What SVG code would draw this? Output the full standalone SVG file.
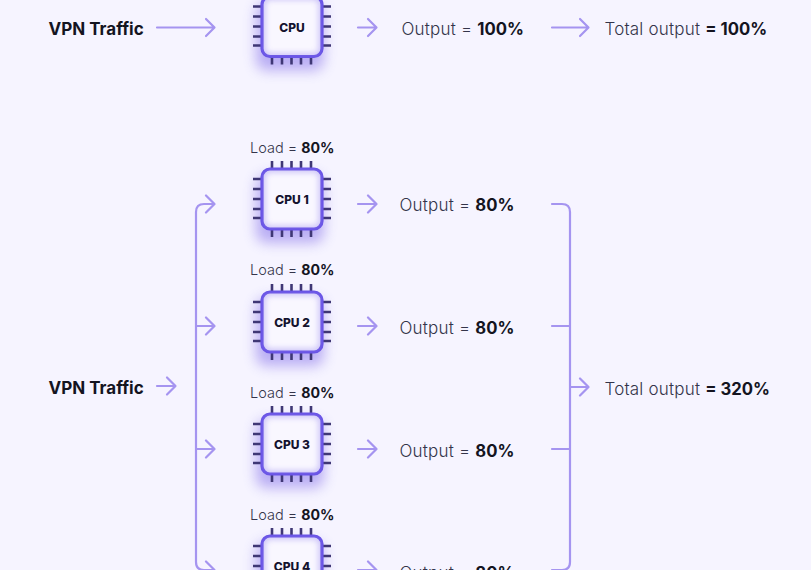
<svg xmlns="http://www.w3.org/2000/svg" width="811" height="570" viewBox="0 0 811 570">
<style>
text{font-family:Inter,"Liberation Sans",sans-serif;fill:#34344a}
.t{font-size:17px;font-weight:300;letter-spacing:.2px}
.l{font-size:14.500px;font-weight:300}
.b{font-weight:700;fill:#14141f;font-size:16.700px;letter-spacing:0}
.lb{font-weight:700;fill:#14141f;font-size:14.200px}
.v{font-size:17px;font-weight:700;fill:#14141f}
.c{font-size:12px;font-weight:800;fill:#14122e;text-anchor:middle}
.ln{fill:none;stroke:#a594f0;stroke-width:2.200;stroke-linecap:round;stroke-linejoin:round}
.pin{stroke:#3f3775;stroke-width:2.600;fill:none}
.body{fill:#f9f7ff;stroke:#6a55e6;stroke-width:3.200}
.in{fill:none;stroke:#7d69ea;stroke-width:5;opacity:.5}
</style>
<defs>
<filter id="sh" x="-50%" y="-50%" width="200%" height="200%"><feGaussianBlur stdDeviation="6.500"/></filter>
<filter id="soft" x="-30%" y="-30%" width="160%" height="160%"><feGaussianBlur stdDeviation="3"/></filter>
<clipPath id="cp"><rect x="-30" y="-30" width="60" height="60" rx="8"/></clipPath>
<g id="chip">
<rect x="-36" y="-24" width="68" height="68" rx="10" fill="#6f58e6" opacity=".45" filter="url(#sh)"/>
<path class="pin" d="M-39-20h10M-39-10h10M-39 0h10M-39 10h10M-39 19h10M29-20h10M29-10h10M29 0h10M29 10h10M29 19h10M-20-38v9M-10-38v9M-.5-38v9M9-38v9M19-38v9M-20 29v9M-10 29v9M-.5 29v9M9 29v9M19 29v9"/>
<rect class="body" x="-30" y="-30" width="60" height="60" rx="8"/>
<g clip-path="url(#cp)"><rect class="in" x="-30" y="-30" width="60" height="60" rx="8" filter="url(#soft)"/></g>
</g>
</defs>
<rect width="811" height="570" fill="#f6f4ff"/>
<g id="connectors">
<path class="ln" d="M157 27.500H214M206 19L214.500 27.500L206 36"/>
<path class="ln" d="M358 27.500H376M368 19L376.500 27.500L368 36"/>
<path class="ln" d="M552 27.500H588M580 19L588.500 27.500L580 36"/>
<path class="ln" d="M157 386H175M167 377.500L175.500 386L167 394.500"/>
<path class="ln" d="M214 204H204Q196 204 196 212V562Q196 570 204 570H214"/>
<path class="ln" d="M206 195.500L214.500 204L206 212.500M196 326H214M206 317.500L214.500 326L206 334.500M196 449H214M206 440.500L214.500 449L206 457.500M206 561.500L214.500 570L206 578.500"/>
<path class="ln" d="M358 204H376M368 195.500L376.500 204L368 212.500M358 326H376M368 317.500L376.500 326L368 334.500M358 449H376M368 440.500L376.500 449L368 457.500M358 570H376M368 561.500L376.500 570L368 578.500"/>
<path class="ln" d="M552 204H562Q570 204 570 212V562Q570 570 562 570H552M552 326H570M552 449H570M570 387H588M580 378.500L588.500 387L580 395.500"/>
</g>
<g id="vpn-1"><text class="v" x="48.500" y="34.500">VPN Traffic</text></g>
<g id="cpu"><use href="#chip" x="292" y="26.500"/><text class="c" x="292" y="32">CPU</text></g>
<g id="output-1"><text class="t" x="401.500" y="34.500">Output = <tspan class="b">100%</tspan></text></g>
<g id="total-1"><text class="t" x="604.500" y="34.500">Total output <tspan class="b">= 100%</tspan></text></g>
<g id="vpn-2"><text class="v" x="48.500" y="393.500">VPN Traffic</text></g>
<g id="cpu1"><text class="l" x="250" y="152.500">Load = <tspan class="lb">80%</tspan></text><use href="#chip" x="292" y="199"/><text class="c" x="292" y="204">CPU 1</text></g>
<g id="cpu2"><text class="l" x="250" y="275">Load = <tspan class="lb">80%</tspan></text><use href="#chip" x="292" y="322"/><text class="c" x="292" y="327">CPU 2</text></g>
<g id="cpu3"><text class="l" x="250" y="398">Load = <tspan class="lb">80%</tspan></text><use href="#chip" x="292" y="444"/><text class="c" x="292" y="449">CPU 3</text></g>
<g id="cpu4"><text class="l" x="250" y="520">Load = <tspan class="lb">80%</tspan></text><use href="#chip" x="292" y="566"/><text class="c" x="292" y="571">CPU 4</text></g>
<g id="output-2"><text class="t" x="399.500" y="211">Output = <tspan class="b">80%</tspan></text></g>
<g id="output-3"><text class="t" x="399.500" y="333.500">Output = <tspan class="b">80%</tspan></text></g>
<g id="output-4"><text class="t" x="399.500" y="456.500">Output = <tspan class="b">80%</tspan></text></g>
<g id="output-5"><text class="t" x="399.500" y="579">Output = <tspan class="b">80%</tspan></text></g>
<g id="total-2"><text class="t" x="604.500" y="395">Total output <tspan class="b">= 320%</tspan></text></g>
</svg>
